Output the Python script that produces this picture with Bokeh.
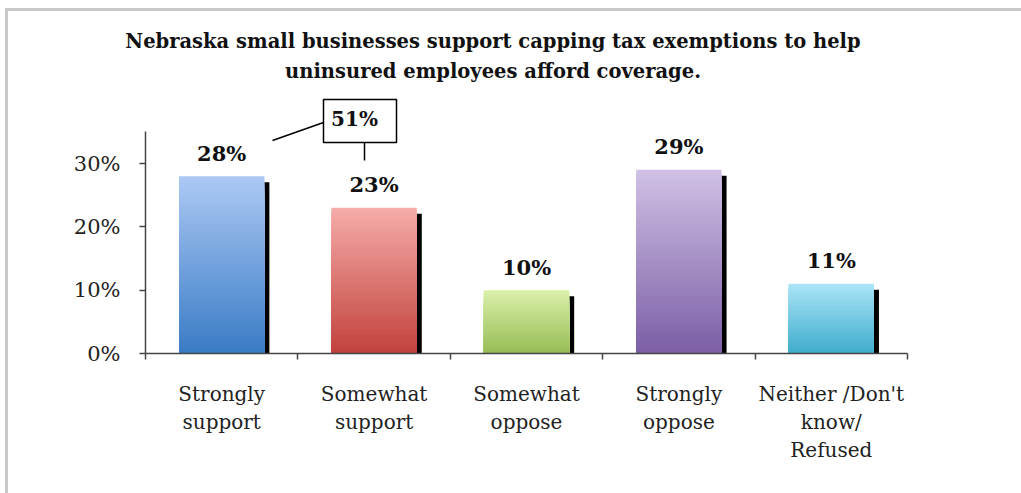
from bokeh.plotting import figure
from bokeh.layouts import column
from bokeh.models import ColumnDataSource, FixedTicker, PrintfTickFormatter, Range1d, Div
from bokeh.core.properties import value
from bokeh.embed import file_html
from bokeh.resources import INLINE

# ---------------- data ----------------
categories = ["Strongly\nsupport", "Somewhat\nsupport", "Somewhat\noppose",
              "Strongly\noppose", "Neither /Don't\nknow/\nRefused"]
values = [28, 23, 10, 29, 11]
top_colors = ["#abc8f4", "#f5aba8", "#d9f0aa", "#cfc0e4", "#aae4f7"]
bottom_colors = ["#3b7cc6", "#c2433d", "#98bd55", "#7c5fa6", "#40adcc"]
y_ticks = [0, 10, 20, 30]
title_lines = ["Nebraska small businesses support capping tax exemptions to help",
               "uninsured employees afford coverage."]
callout_label = "51%"   # strongly + somewhat support

# ---------------- layout (pixels, page coords) ----------------
PAGE_X0, PAGE_Y0 = 8, 11          # top-left of the drawing area on the page
W = 1013
TITLE_H = 79                      # title strip: page y 11..90
MAIN_TOP = PAGE_Y0 + TITLE_H      # 90
MAIN_H = 403
AXIS_X, AXIS_Y = 145, 353         # page position of the axes origin
PLOT_RIGHT = 907
Y_AXIS_MAX = 35
PX_PER_CAT = (PLOT_RIGHT - AXIS_X) / len(categories)
PX_PER_PCT = 190 / 30
Y_END = (AXIS_Y - MAIN_TOP) / PX_PER_PCT
FONT = "DejaVu Serif"
TITLE_CX = 493                    # page x of the title centre


def dx(px):
    return px / PX_PER_CAT


def dy(px):
    return px / PX_PER_PCT


def page_x(px):
    return (px - AXIS_X) / PX_PER_CAT


def page_y(py):
    return (AXIS_Y - py) / PX_PER_PCT


# ---------------- title ----------------
title_html = (
    '<div style="width:%dpx;text-align:center;font-family:\'%s\';font-weight:bold;'
    'font-size:19.5px;line-height:30px;color:#111111;padding-top:16px;margin:0;">%s</div>'
    % (2 * (TITLE_CX - PAGE_X0), FONT, "<br>".join(title_lines))
)
t = Div(text=title_html, width=W, height=TITLE_H, margin=0,
        styles={"background-color": "white"})

# ---------------- main chart ----------------
p = figure(width=W, height=MAIN_H, output_backend="svg", toolbar_location=None,
           x_range=Range1d(0, len(categories)), y_range=Range1d(0, Y_END),
           min_border_left=AXIS_X - PAGE_X0,
           min_border_right=W - (PLOT_RIGHT - PAGE_X0),
           min_border_top=0,
           min_border_bottom=MAIN_H - (AXIS_Y - MAIN_TOP),
           outline_line_color=None, background_fill_color="white",
           border_fill_color="white")
p.grid.visible = False

BAR_W = 0.56
xs = [i + 0.5 for i in range(len(categories))]

# drop shadows
p.quad(left=[x for x in xs], right=[x + BAR_W / 2 + dx(5) for x in xs],
       bottom=[0] * len(xs), top=[v - dy(6) for v in values],
       fill_color="black", line_color=None)


def hex_to_rgb(h):
    h = h.lstrip("#")
    return tuple(int(h[i:i + 2], 16) for i in (0, 2, 4))


def mix(c1, c2, t_):
    a, b = hex_to_rgb(c1), hex_to_rgb(c2)
    return "#%02x%02x%02x" % tuple(int(round(a[i] + (b[i] - a[i]) * t_)) for i in range(3))


# gradient-filled bars (nested rectangles from the bar's own value)
N = 48
g = dict(left=[], right=[], top=[], color=[])
for k in range(N):
    for i, v in enumerate(values):
        g["left"].append(xs[i] - BAR_W / 2)
        g["right"].append(xs[i] + BAR_W / 2)
        g["top"].append(v * (N - k) / N)
        g["color"].append(mix(top_colors[i], bottom_colors[i], k / (N - 1)))
g["bottom"] = [0] * len(g["top"])
p.quad(left="left", right="right", bottom="bottom", top="top",
       fill_color="color", line_color=None, source=ColumnDataSource(g))

# value labels
p.text(x=xs, y=values, text=["%d%%" % v for v in values],
       text_font=value(FONT), text_font_style="bold", text_font_size="21px",
       text_color="#111111", text_align="center", text_baseline="middle",
       y_offset=-23)

# callout (combined support)
p.quad(left=[page_x(323)], right=[page_x(396)], bottom=[page_y(142)], top=[page_y(99)],
       fill_color="white", line_color="black", line_width=1.5)
p.segment(x0=[page_x(323), page_x(364)], y0=[page_y(122), page_y(142)],
          x1=[page_x(272), page_x(364)], y1=[page_y(140), page_y(160)],
          line_color="black", line_width=1.5)
p.text(x=[page_x(354)], y=[page_y(118)], text=[callout_label],
       text_font=value(FONT), text_font_style="bold", text_font_size="20px",
       text_color="#111111", text_align="center", text_baseline="middle")

# axes
AX_COLOR = "#444444"
yax = p.yaxis[0]
yax.bounds = (0, Y_AXIS_MAX)
yax.ticker = FixedTicker(ticks=y_ticks, minor_ticks=[])
yax.formatter = PrintfTickFormatter(format="%d%%")
yax.axis_line_color = AX_COLOR
yax.axis_line_width = 1.5
yax.major_tick_line_color = AX_COLOR
yax.major_tick_line_width = 1.5
yax.major_tick_out = 6
yax.major_tick_in = 0
yax.minor_tick_line_color = None
yax.major_label_standoff = 19
yax.major_label_text_font = FONT
yax.major_label_text_font_size = "21px"
yax.major_label_text_color = "#222222"

xax = p.xaxis[0]
xax.ticker = FixedTicker(ticks=xs, minor_ticks=list(range(len(categories) + 1)))
xax.major_label_overrides = {x: c for x, c in zip(xs, categories)}
xax.axis_line_color = AX_COLOR
xax.axis_line_width = 1.5
xax.major_tick_line_color = None
xax.major_tick_out = 0
xax.major_tick_in = 0
xax.minor_tick_line_color = AX_COLOR
xax.minor_tick_line_width = 1.5
xax.minor_tick_out = 6
xax.minor_tick_in = 0
xax.major_label_standoff = 22
xax.major_label_text_font = FONT
xax.major_label_text_font_size = "20px"
xax.major_label_text_color = "#222222"
xax.major_label_text_line_height = 1.18

layout = column(t, p, spacing=0,
                styles={"margin-left": "%dpx" % PAGE_X0, "margin-top": "%dpx" % PAGE_Y0,
                        "border-top": "3px solid #c9c9c9",
                        "border-left": "3px solid #c9c9c9",
                        "position": "relative", "left": "-3px", "top": "-3px"})

open("out.html", "w").write(file_html(layout, INLINE))
